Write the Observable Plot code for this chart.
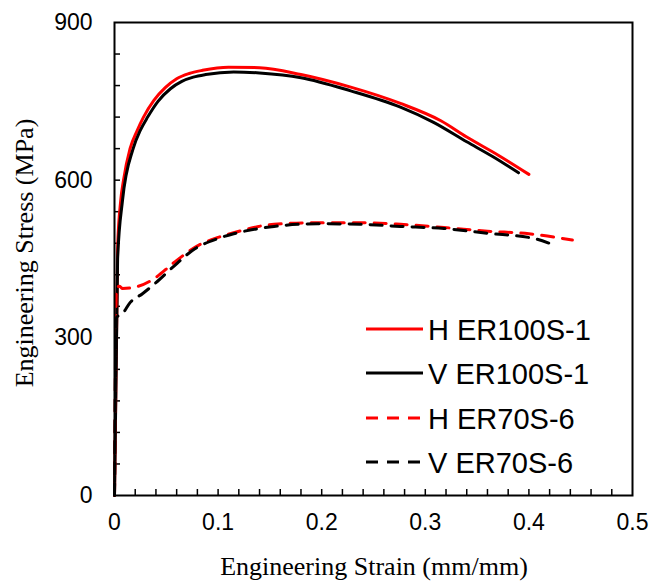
<!DOCTYPE html>
<html>
<head>
<meta charset="utf-8">
<script src="https://cdn.jsdelivr.net/npm/d3@7"></script>
<script src="https://cdn.jsdelivr.net/npm/@observablehq/plot@0.6"></script>
<style>
  html, body { margin: 0; padding: 0; background: white; }
</style>
</head>
<body>
<div id="chart"></div>
<script>
// ---- Data ----
const seriesNames = ["H ER100S-1", "V ER100S-1", "H ER70S-6", "V ER70S-6"];
const seriesColors = ["#ff0000", "#000000", "#ff0000", "#000000"];
const seriesDashed = [false, false, true, true];

const h100Strain = [0, 0.003, 0.006, 0.0087, 0.015, 0.022, 0.028, 0.038, 0.049, 0.06, 0.072, 0.085, 0.11, 0.14, 0.18, 0.228, 0.276, 0.315, 0.34, 0.37, 0.40];
const h100Stress = [0, 470, 561, 600, 660, 695, 720, 752, 776, 793, 803, 809, 815, 814, 801, 777, 746, 713, 682, 648, 611];

const v100Strain = [0, 0.003, 0.0077, 0.018, 0.025, 0.032, 0.042, 0.054, 0.065, 0.076, 0.088, 0.115, 0.14, 0.18, 0.228, 0.276, 0.308, 0.34, 0.365, 0.39];
const v100Stress = [0, 450, 561, 660, 695, 720, 750, 774, 788, 796, 801, 806, 804, 795, 770, 739, 710, 673, 645, 614];

const h70Strain = [0, 0.002, 0.005, 0.0077, 0.023, 0.04, 0.056, 0.081, 0.10, 0.115, 0.154, 0.196, 0.237, 0.276, 0.318, 0.36, 0.40, 0.442];
const h70Stress = [0, 396, 398, 394, 398, 415, 441, 476, 491, 500, 516, 519, 519, 516, 510, 503, 498, 486];

const v70Strain = [0, 0.002, 0.0077, 0.015, 0.027, 0.04, 0.056, 0.078, 0.10, 0.115, 0.154, 0.196, 0.237, 0.276, 0.318, 0.36, 0.405, 0.421];
const v70Stress = [0, 339, 346, 367, 384, 405, 434, 470, 489, 498, 512, 517, 516, 512, 508, 499, 489, 479];

const xTickLabels = [0, 0.1, 0.2, 0.3, 0.4, 0.5];
const yTickLabels = [0, 300, 600, 900];
const xMinorTicks = [0.02, 0.04, 0.06, 0.08, 0.1, 0.12, 0.14, 0.16, 0.18, 0.2, 0.22, 0.24, 0.26, 0.28, 0.3, 0.32, 0.34, 0.36, 0.38, 0.4, 0.42, 0.44, 0.46, 0.48];
const yMinorTicks = [60, 120, 180, 240, 300, 360, 420, 480, 540, 600, 660, 720, 780, 840];

const xTitle = "Engineering Strain (mm/mm)";
const yTitle = "Engineering Stress (MPa)";

// ---- Build table ----
const strains = [h100Strain, v100Strain, h70Strain, v70Strain];
const stresses = [h100Stress, v100Stress, h70Stress, v70Stress];
const rows = [];
seriesNames.forEach((name, i) => {
  strains[i].forEach((s, j) => rows.push({series: name, strain: s, stress: stresses[i][j]}));
});

const lineMarks = seriesNames.map((name, i) =>
  Plot.line(rows.filter(d => d.series === name), {
    x: "strain", y: "stress",
    stroke: seriesColors[i],
    strokeWidth: 3,
    strokeDasharray: seriesDashed[i] ? "12,9" : null,
    curve: "monotone-x"
  })
);

const W = 661, H = 581;
const chart = Plot.plot({
  width: W, height: H,
  marginLeft: 114, marginRight: 29, marginTop: 22, marginBottom: 86,
  x: {domain: [0, 0.5]},
  y: {domain: [0, 900]},
  style: {fontFamily: "'Liberation Sans', Arial, sans-serif", fontSize: "23px", color: "black", background: "white"},
  marks: [
    Plot.axisY({ticks: yMinorTicks, tickSize: -6, text: null, label: null, strokeWidth: 1.5}),
    Plot.axisX({ticks: xMinorTicks, tickSize: -6, text: null, label: null, strokeWidth: 1.5}),
    Plot.text(yTickLabels, {x: 0, y: d => d, text: d => String(d), textAnchor: "end", dx: -22, fontSize: 23, fill: "black"}),
    Plot.text(xTickLabels, {x: d => d, y: 0, text: d => String(d), textAnchor: "middle", dy: 27, fontSize: 23, fill: "black"}),
    ...lineMarks,
    Plot.frame({stroke: "black", strokeWidth: 2})
  ]
});

const svg = d3.select(chart);

// Axis titles
svg.append("text")
  .attr("x", 374).attr("y", 575)
  .attr("text-anchor", "middle")
  .attr("font-family", "'Liberation Serif', 'Times New Roman', serif")
  .attr("font-size", 26)
  .attr("fill", "black")
  .text(xTitle);

svg.append("text")
  .attr("transform", "translate(33,253) rotate(-90)")
  .attr("text-anchor", "middle")
  .attr("font-family", "'Liberation Serif', 'Times New Roman', serif")
  .attr("font-size", 26)
  .attr("fill", "black")
  .text(yTitle);

// Legend
const legendRowsY = [329, 373, 418, 462];
seriesNames.forEach((name, i) => {
  const y = legendRowsY[i];
  svg.append("line")
    .attr("x1", 366).attr("x2", 423).attr("y1", y).attr("y2", y)
    .attr("stroke", seriesColors[i]).attr("stroke-width", 3)
    .attr("stroke-dasharray", seriesDashed[i] ? "12,9" : null);
  svg.append("text")
    .attr("x", 428).attr("y", y + 10.5)
    .attr("text-anchor", "start")
    .attr("font-family", "'Liberation Sans', Arial, sans-serif")
    .attr("font-size", 29)
    .attr("fill", "black")
    .text(name);
});

document.getElementById("chart").appendChild(chart);
</script>
</body>
</html>
